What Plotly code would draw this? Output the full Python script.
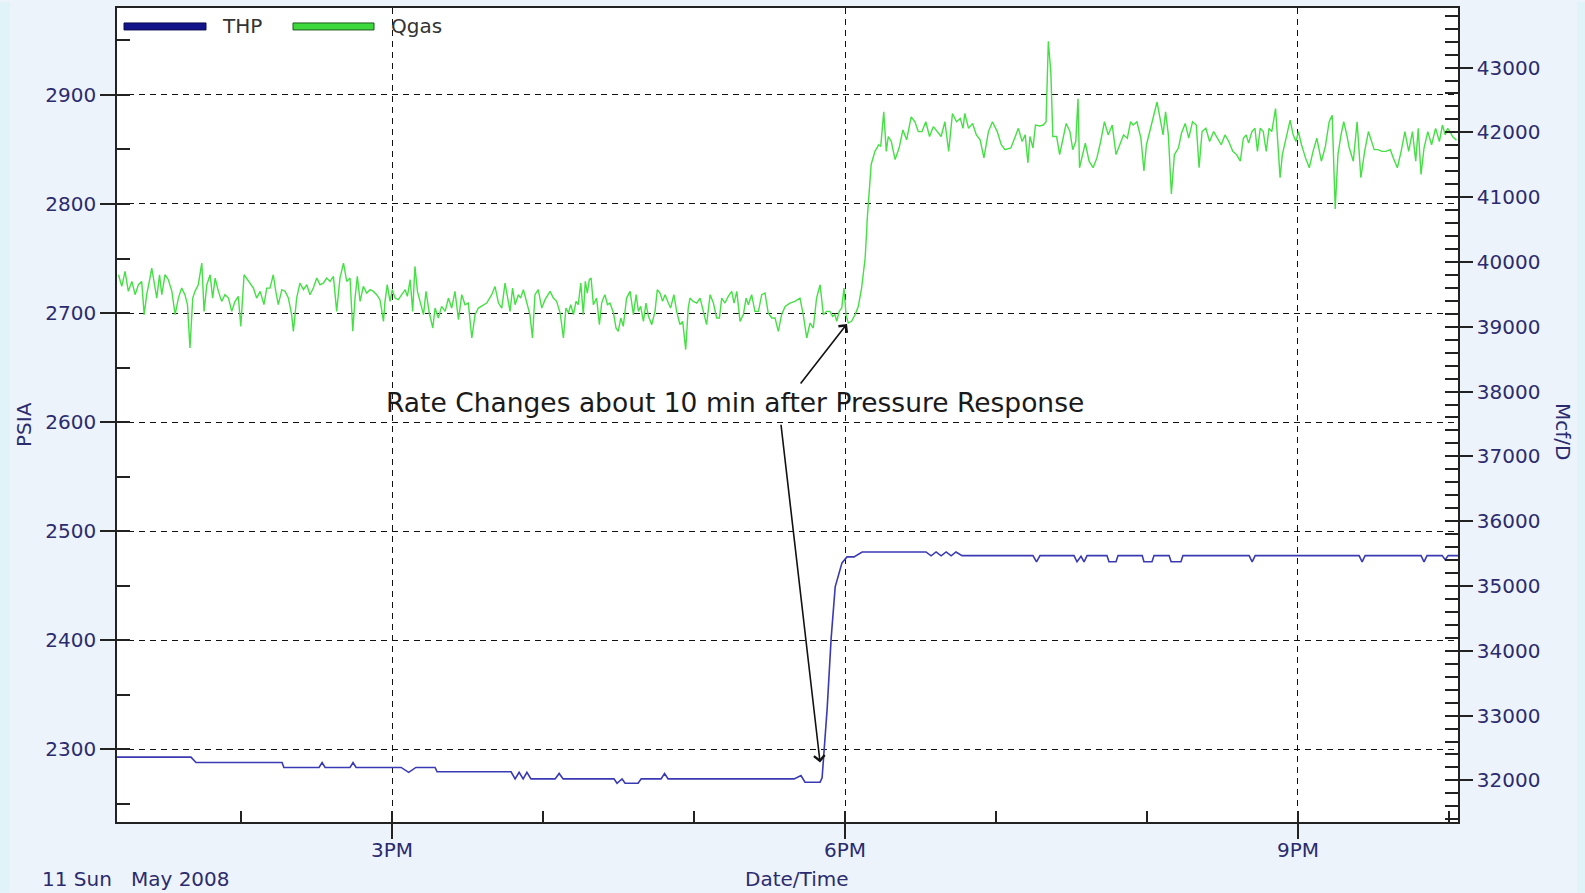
import pandas as pd
import plotly.graph_objects as go

BASE = pd.Timestamp("2008-05-11 13:00:00")

# ---- THP (PSIA), minutes after 13:00 ----
thp_min = [10.7, 40.1, 42.1, 76.3, 77.0, 91.0, 92.2, 93.4, 103.3, 104.5, 105.7, 123.6, 126.6, 129.5,
           137.1, 137.9, 167.3, 168.9, 170.5, 172.1, 173.6, 175.2, 184.8, 186.4, 188.0, 208.2, 209.4,
           211.4, 212.6, 217.8, 219.0, 226.9, 228.3, 229.7, 279.8, 282.5, 284.1, 290.1, 290.9, 292.9,
           294.5, 296.1, 298.8, 300.8, 303.6, 306.8, 332.2, 334.2, 336.2, 338.2, 340.2, 342.2, 344.1,
           346.5, 374.7, 376.1, 377.5, 391.0, 392.2, 393.8, 395.0, 396.2, 404.1, 404.9, 407.7, 408.5,
           418.1, 418.8, 422.0, 422.8, 428.8, 429.6, 433.5, 434.3, 460.6, 461.8, 463.0, 504.3, 505.5,
           506.7, 528.9, 530.1, 531.3, 537.3, 538.5, 539.7, 543.6]
thp_val = [2293, 2293, 2288, 2288, 2283.5, 2283.5, 2288, 2283.5, 2283.5, 2288, 2283.5, 2283.5, 2279, 2283.5,
           2283.5, 2279.5, 2279.5, 2273, 2279, 2273, 2279, 2273, 2273, 2278, 2273, 2273, 2269,
           2273, 2269, 2269, 2273, 2273, 2278, 2273, 2273, 2276, 2270, 2270, 2274, 2337,
           2402, 2449, 2471, 2476.5, 2476.5, 2481, 2481, 2477.5, 2481, 2477.5, 2481, 2477.5, 2481,
           2477.7, 2477.7, 2472, 2477.7, 2477.7, 2472, 2477, 2472, 2477.7, 2477.7, 2472, 2472, 2477.7,
           2477.7, 2472, 2472, 2477.7, 2477.7, 2472, 2472, 2477.7, 2477.7, 2472, 2477.7, 2477.7, 2472,
           2477.7, 2477.7, 2472, 2477.7, 2477.7, 2474, 2477.7, 2477.7]

# ---- Qgas (Mcf/D), minutes after 13:00 ----
q_min = [11.3, 12.6, 13.9, 15.2, 16.6, 17.9, 19.2, 20.5, 21.5, 22.5, 23.8, 24.5, 25.4, 26.5, 27.6, 28.5,
         29.8, 31.1, 32.5, 33.8, 35.1, 36.4, 37.7, 38.7, 39.7, 40.8, 41.7, 43.0, 44.4, 45.3, 46.4, 47.7,
         48.7, 49.7, 51.0, 52.3, 53.6, 55.0, 56.3, 57.6, 58.9, 59.9, 61.2, 62.9, 64.9, 66.2, 67.6, 69.1,
         70.2, 71.5, 72.8, 73.8, 74.8, 76.2, 77.5, 78.8, 80.1, 80.8, 82.1, 83.4, 84.8, 86.1, 87.4, 88.7,
         90.1, 91.4, 92.7, 94.0, 95.4, 96.7, 98.0, 99.3, 100.7, 102.0, 103.3, 104.4, 105.3, 106.2, 107.3,
         108.6, 109.9, 111.3, 112.6, 113.9, 115.2, 116.6, 117.2, 118.1, 119.2, 120.1, 121.2, 122.5, 123.8,
         125.2, 126.1, 127.2, 128.2, 129.1, 130.1, 131.1, 132.5, 133.5, 134.8, 136.2, 137.1, 138.4, 139.7,
         141.1, 142.4, 143.7, 145.0, 146.4, 147.7, 149.0, 150.3, 151.7, 153.0, 154.3, 155.6, 157.6, 159.6,
         160.9, 162.3, 163.6, 164.9, 165.8, 166.9, 167.9, 168.9, 170.2, 171.1, 172.2, 173.5, 174.8, 175.8,
         176.8, 178.1, 179.5, 180.8, 182.1,
         182.8, 184.1, 185.4, 186.8, 188.1, 189.1, 190.1, 191.0, 192.1, 193.1, 194.0, 195.0, 196.0, 196.8,
         197.6, 198.4, 199.1, 200.0, 201.3, 202.4, 203.3, 204.0, 204.6, 205.6, 206.6, 208.0, 209.0, 209.9,
         210.9, 211.9, 213.2, 214.6, 215.9, 217.0, 217.9, 218.8, 219.9, 220.9, 221.9, 223.2, 224.5, 225.4,
         226.5, 227.5, 228.5, 229.8, 230.7, 232.0, 233.1, 234.4, 235.5, 236.7, 237.7, 238.4, 239.7, 241.1,
         242.4, 243.7, 245.0, 246.4, 247.7, 249.0, 250.1, 251.0, 252.3, 253.6, 255.0, 255.9, 257.0, 258.3,
         259.6, 260.7, 261.6, 262.9, 264.2, 265.6, 266.9, 268.2, 269.5, 270.9, 272.2, 273.5, 274.8, 276.2,
         278.1, 280.1, 282.1, 283.4, 284.8, 286.1, 287.4, 288.7, 290.1, 291.4, 292.7, 294.0, 295.1, 296.0,
         296.7, 297.7, 298.7, 299.6, 300.4, 301.3, 302.6, 304.0, 305.3, 306.6, 308.0, 308.6,
         308.8, 310.4, 311.9, 313.4, 314.2, 315.4, 316.4, 317.2, 318.4, 319.9, 321.5, 323.0, 324.5, 326.3,
         327.8, 329.1, 330.6, 332.1, 333.6, 335.1, 336.7, 338.2, 339.7, 341.2, 342.7, 344.3, 345.8, 346.9,
         347.6, 349.1, 350.7, 352.2, 353.7, 355.2, 357.0, 358.6, 360.5, 362.1, 363.6, 365.9, 367.4, 368.9,
         370.4, 371.6, 372.7, 373.5, 374.7, 375.7, 377.3, 378.8, 379.9, 380.8, 381.8, 382.6, 384.1, 385.3,
         386.4, 387.9, 389.4, 390.5, 391.7, 392.6, 393.2, 395.5, 397.0, 398.6, 400.1, 401.6, 403.1, 404.6,
         406.2, 407.7, 409.2, 410.7, 412.2, 413.5, 414.5, 416.0, 417.6, 418.8, 419.8, 421.4, 422.9, 424.0,
         425.2, 426.4, 427.4, 428.5, 429.7, 430.9, 432.5, 433.7, 435.2, 436.6, 438.1, 439.6, 440.7, 441.9,
         443.4, 444.9, 446.5, 448.0, 449.5, 451.0, 452.5, 454.1, 455.6, 457.1, 458.3, 459.4, 460.4, 461.7,
         462.9, 463.9, 465.0, 466.2, 467.4, 468.5, 469.6, 471.1, 472.0, 472.9, 473.8, 475.4, 476.9, 478.1,
         479.2, 480.2, 481.4, 483.0, 484.5, 486.0, 487.5, 489.3, 490.9, 492.4, 493.6, 494.8, 495.9, 497.1,
         498.2, 499.4, 500.4, 502.0, 503.5, 505.0, 506.5, 508.0, 509.1, 510.3, 511.8, 513.4, 514.9, 516.7,
         517.9, 519.5, 521.0, 522.5, 524.0, 525.5, 526.8, 527.8, 528.9, 530.1, 531.6, 533.1, 534.7, 536.2,
         537.4, 538.5, 539.5, 540.4, 541.5, 543.0]
q_val = [39803, 39623, 39854, 39546, 39700, 39495, 39649, 39700, 39187, 39495, 39751, 39905, 39700, 39443, 39803, 39495,
         39803, 39726, 39546, 39187, 39443, 39597, 39495, 39341, 38673, 39443, 39546, 39649, 39982, 39238, 39649, 39803,
         39443, 39751, 39546, 39392, 39495, 39443, 39238, 39392, 39469, 39007, 39803, 39700, 39597, 39443, 39546, 39341,
         39597, 39597, 39803, 39546, 39341, 39572, 39546, 39443, 39187, 38930, 39443, 39674, 39572, 39649, 39495, 39597,
         39751, 39649, 39674, 39751, 39700, 39777, 39238, 39751, 39982, 39700, 39751, 38930, 39443, 39777, 39392,
         39623, 39520, 39572, 39546, 39495, 39418, 39084, 39392, 39649, 39392, 39572, 39443, 39418, 39495,
         39572, 39469, 39726, 39238, 39931, 39546, 39392, 39187, 39546, 39212, 38981, 39289, 39135, 39315,
         39238, 39443, 39289, 39546, 39110, 39495, 39341, 39366, 38827, 39187, 39289, 39315, 39366, 39495,
         39623, 39366, 39289, 39674, 39495, 39238, 39597, 39341, 39495, 39443, 39572, 39392, 39187, 38827,
         39495, 39572, 39289, 39418, 39495,
         39546, 39443, 39392, 39212, 38827, 39289, 39212, 39341, 39187, 39392, 39341, 39674, 39187, 39700,
         39520, 39726, 39751, 39341, 39443, 39033, 39366, 39443, 39495, 39341, 39366, 39212, 38981, 38930,
         39135, 39007, 39443, 39546, 39187, 39495, 39238, 39315, 39084, 39366, 39161, 39033, 39238, 39572,
         39520, 39392, 39495, 39366, 39289, 39495, 39238, 39033, 39084, 38648, 39289, 39443, 39392, 39366,
         39443, 39238, 39033, 39495, 39366, 39135, 39135, 39443, 39366, 39469, 39546, 39366, 39546, 39084,
         39187, 39443, 39341, 39495, 39238, 39238, 39495, 39520, 39212, 39135, 39135, 38930, 39187, 39315,
         39366, 39392, 39443, 39187, 38827, 39058, 38981, 39443, 39649, 39187, 39238, 39238, 39161, 39187,
         39084, 39238, 39289, 39597, 39187, 39058, 39084, 39187, 39315, 39597, 40059, 40470,
         40642, 41505, 41707, 41809, 41783, 42316, 41707, 41936, 41859, 41580, 41758, 42037, 41885, 42240,
         42164, 42012, 42012, 42164, 41936, 42088, 42012, 41936, 42164, 41707, 42291, 42164, 42215, 42062,
         42291, 42062, 42138, 41961, 41885, 41606, 42012, 42164, 42012, 41809, 41733, 41758, 41910, 42062,
         41859, 41961, 41530, 41936, 41758, 42113, 42098, 42113, 42164, 43406, 42925, 41936, 41936, 41657,
         41859, 42138, 42012, 41733, 41859, 42519, 41454, 41834, 41555, 41454, 41606, 41859, 42164, 41961,
         42113, 41657, 41809, 41961, 41910, 42164, 42113, 42164, 41910, 41403, 41809, 42062, 42316, 42468,
         42215, 41961, 42316, 41961, 41048, 41657, 41758, 41986, 42138, 41910, 42164, 42113, 41454, 42012,
         42062, 41859, 42012, 41910, 41809, 41961, 41859, 41707, 41657, 41555, 41910, 41961, 41834, 42012,
         42062, 41707, 42062, 42012, 41707, 42062, 42012, 42367, 41910, 41302, 41657, 41910, 42189, 41961,
         41859, 42012, 41809, 41606, 41454, 41707, 41910, 41555, 41783, 42164, 42265, 40819, 41657, 41961,
         42164, 41961, 41758, 41555, 42164, 41302, 41707, 42012, 41859, 41733, 41733, 41707, 41707, 41733,
         41606, 41454, 41707, 42012, 41707, 42012, 41555, 42062, 41352, 41758, 42012, 41809, 42062, 41859,
         42113, 41961, 42062, 42012, 41930, 41880]

X_START_MIN = 10.7
X_END_MIN = 543.6
PSIA_RANGE = [2233.5, 2979.6]
MCF_RANGE = [31358, 43919]


def t(m):
    return BASE + pd.Timedelta(minutes=m)


thp_t = [t(m) for m in thp_min]
q_t = [t(m) for m in q_min]

W, H = 1585, 893
ML, MR, MT, MB = 117, 127, 6, 71
PW, PH = W - ML - MR, H - MT - MB


def px(x):
    return (x - ML) / PW


def py(y):
    return (H - MB - y) / PH


NAVY = "#2B2B6E"
FONT = "DejaVu Sans"

fig = go.Figure()
fig.add_trace(go.Scatter(x=q_t, y=q_val, name="Qgas", yaxis="y2", mode="lines",
                         line=dict(color="#44E044", width=1.4)))
fig.add_trace(go.Scatter(x=thp_t, y=thp_val, name="THP", mode="lines",
                         line=dict(color="#3A3AB4", width=1.6)))

grid_dash = "6px,5px"
fig.update_layout(
    width=W, height=H,
    margin=dict(l=ML, r=MR, t=MT, b=MB, pad=0),
    paper_bgcolor="#EDF3FB",
    plot_bgcolor="white",
    showlegend=False,
    font=dict(family=FONT, size=20, color=NAVY),
    xaxis=dict(
        type="date",
        range=[t(X_START_MIN), t(X_END_MIN)],
        tick0=t(120), dtick=3 * 3600000,
        tickformat="%-I%p",
        ticks="outside", ticklen=15, tickwidth=1.5, tickcolor="#222",
        ticklabelstandoff=-6,
        showgrid=True, gridcolor="#111", gridwidth=1.2, griddash=grid_dash,
        showline=True, linecolor="#222", linewidth=1.6, mirror=True,
        minor=dict(dtick=3600000, tick0=t(120), ticks="inside", ticklen=11,
                   tickcolor="#222", tickwidth=1.5, showgrid=False),
        tickfont=dict(family=FONT, size=20, color=NAVY),
        zeroline=False,
    ),
    yaxis=dict(
        range=PSIA_RANGE, dtick=100, tick0=0, tickformat="d",
        ticks="outside", ticklen=15, tickwidth=1.5, tickcolor="#222",
        showgrid=True, gridcolor="#111", gridwidth=1.2, griddash=grid_dash,
        showline=True, linecolor="#222", linewidth=1.6,
        minor=dict(dtick=50, ticks="inside", ticklen=13, tickcolor="#222", tickwidth=1.5, showgrid=False),
        tickfont=dict(family=FONT, size=20, color=NAVY),
        zeroline=False,
    ),
    yaxis2=dict(
        range=MCF_RANGE, dtick=1000, tick0=0, overlaying="y", side="right", tickformat="d",
        ticks="outside", ticklen=13, tickwidth=1.5, tickcolor="#222",
        showgrid=False,
        showline=True, linecolor="#222", linewidth=1.6,
        minor=dict(dtick=200, ticks="inside", ticklen=13, tickcolor="#222", tickwidth=1.5, showgrid=False),
        tickfont=dict(family=FONT, size=20, color=NAVY),
        zeroline=False,
    ),
)

shapes = [
    # side strips of the window background
    dict(type="rect", xref="paper", yref="paper", x0=px(0), x1=px(10), y0=py(H), y1=py(0),
         fillcolor="#DFF3F8", line=dict(width=0), layer="below"),
    dict(type="rect", xref="paper", yref="paper", x0=px(1577), x1=px(W), y0=py(H), y1=py(0),
         fillcolor="#DFF3F8", line=dict(width=0), layer="below"),
    # legend swatches
    dict(type="rect", xref="paper", yref="paper", x0=px(124), x1=px(206), y0=py(28), y1=py(21),
         fillcolor="#14148A", line=dict(color="#0A0A50", width=1)),
    dict(type="rect", xref="paper", yref="paper", x0=px(293), x1=px(374), y0=py(28), y1=py(21),
         fillcolor="#3CD83C", line=dict(color="#1D5A1D", width=1)),
]
fig.update_layout(shapes=shapes)

ann = [
    dict(text="THP", xref="paper", yref="paper", x=px(220), y=py(24), xanchor="left", yanchor="middle",
         showarrow=False, font=dict(family=FONT, size=20, color="#333")),
    dict(text="Qgas", xref="paper", yref="paper", x=px(389), y=py(24), xanchor="left", yanchor="middle",
         showarrow=False, font=dict(family=FONT, size=20, color="#333")),
    dict(text="PSIA", xref="paper", yref="paper", x=px(24), y=py(423), xanchor="center", yanchor="middle",
         textangle=-90, showarrow=False, font=dict(family=FONT, size=20, color=NAVY)),
    dict(text="Mcf/D", xref="paper", yref="paper", x=px(1563), y=py(430), xanchor="center", yanchor="middle",
         textangle=90, showarrow=False, font=dict(family=FONT, size=20, color=NAVY)),
    dict(text="Date/Time", xref="paper", yref="paper", x=px(797), y=py(879), xanchor="center", yanchor="middle",
         showarrow=False, font=dict(family=FONT, size=20, color=NAVY)),
    dict(text="11 Sun\u00a0\u00a0\u00a0May 2008", xref="paper", yref="paper", x=px(40), y=py(879),
         xanchor="left", yanchor="middle", showarrow=False, font=dict(family=FONT, size=20, color=NAVY)),
    dict(text="Rate Changes about 10 min after Pressure Response", xref="x", yref="y",
         x=t(116.8), y=2618, xanchor="left", yanchor="middle", showarrow=False,
         font=dict(family=FONT, size=26.5, color="#1A1A1A")),
    # arrows
    dict(text="", xref="x", yref="y", x=t(300.8), y=2690, axref="x", ayref="y", ax=t(281.9), ay=2634,
         showarrow=True, arrowhead=4, arrowsize=1.3, arrowwidth=1.6, arrowcolor="#111"),
    dict(text="", xref="x", yref="y", x=t(290.1), y=2288, axref="x", ayref="y", ax=t(274.5), ay=2599,
         showarrow=True, arrowhead=4, arrowsize=1.3, arrowwidth=1.6, arrowcolor="#111"),
]
fig.update_layout(annotations=ann)

fig.write_html("out.html")
